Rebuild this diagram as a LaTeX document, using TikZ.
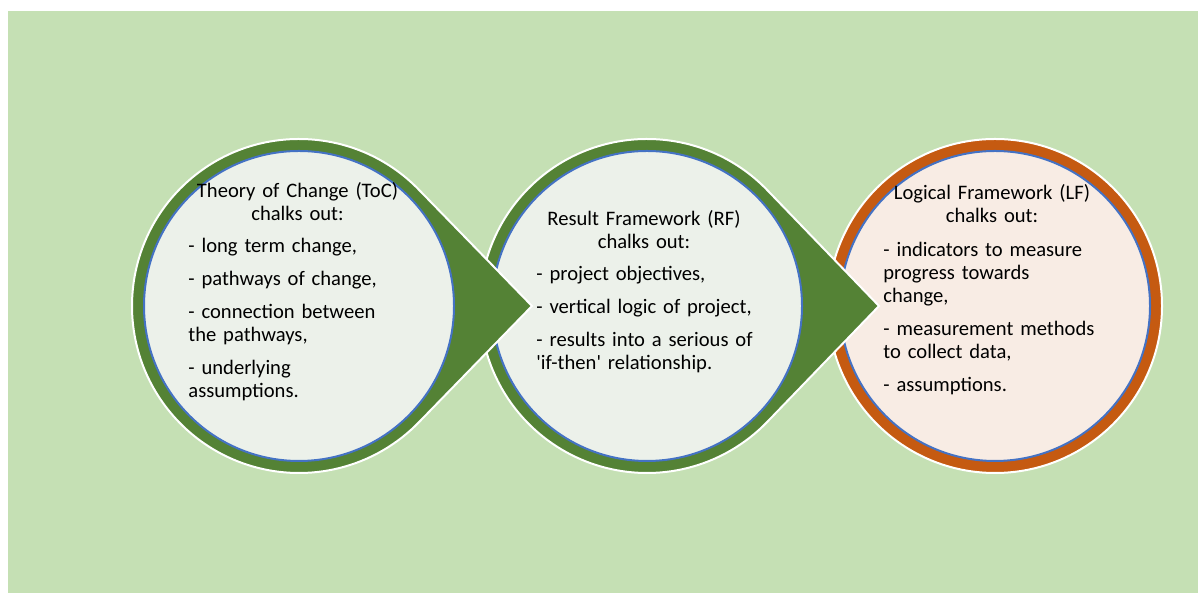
\documentclass[tikz,border=0pt]{standalone}
\usepackage{fontspec}
\newfontfamily\bodyfont{Carlito}
\definecolor{bgGreen}{HTML}{C5E0B4}
\definecolor{ringG}{HTML}{548235}
\definecolor{ringO}{HTML}{C55A11}
\definecolor{lineB}{HTML}{4472C4}
\definecolor{fillG}{HTML}{ECF1EA}
\definecolor{fillO}{HTML}{F8ECE4}
\tikzset{
  ringshape/.style={fill=#1, draw=white, line width=1pt},
  innercirc/.style={circle, inner sep=0pt, outer sep=0pt, minimum size=155pt,
                    draw=lineB, line width=1pt, fill=#1},
  bodytext/.style={inner sep=0pt, text width=150pt, text=black,
                   font=\bodyfont\fontsize{10.3}{11.5}\selectfont},
  headtext/.style={bodytext, anchor=base, execute at begin node=\centering},
  listtext/.style={bodytext, anchor=base west,
                   execute at begin node={\raggedright\setlength{\parskip}{5pt}}}
}
\begin{document}
\begin{tikzpicture}[x=0.5pt,y=0.5pt]
\useasboundingbox (0,0) rectangle (1198,593);
% panel
\fill[bgGreen] (8,0) rectangle (1198,582);

\coordinate (c1) at (299,287);
\coordinate (c2) at (647,287);
\coordinate (c3) at (995,287);
\coordinate (tip1) at (532,287);
\coordinate (tip2) at (879,287);

% third stage: plain ring
\draw[ringshape=ringO] (c3) circle[radius=167];
\node[innercirc=fillO] (in3) at (c3) {};
\node[headtext] (head3) at (992,393) {Logical Framework (LF)\\chalks out:};
\node[listtext] (list3) at (883,336) {
  - indicators to measure\\progress towards\\change,\par
  - measurement methods\\to collect data,\par
  - assumptions.};

% second stage: ring with arrow point
\draw[ringshape=ringG] (tip2) -- ([shift={(44:167)}]c2)
  arc[start angle=44, end angle=316, radius=167] -- cycle;
\node[innercirc=fillG] (in2) at (c2) {};
\node[headtext] (head2) at (644,367) {Result Framework (RF)\\chalks out:};
\node[listtext] (list2) at (536,312) {
  - project objectives,\par
  - vertical logic of project,\par
  - results into a serious of\\\textquotesingle if-then\textquotesingle{} relationship.};

% first stage: ring with arrow point
\draw[ringshape=ringG] (tip1) -- ([shift={(44:167)}]c1)
  arc[start angle=44, end angle=316, radius=167] -- cycle;
\node[innercirc=fillG] (in1) at (c1) {};
\node[headtext] (head1) at (297.5,395) {Theory of Change (ToC)\\chalks out:};
\node[listtext] (list1) at (188,340) {
  - long term change,\par
  - pathways of change,\par
  - connection between\\the pathways,\par
  - underlying\\assumptions.};
\end{tikzpicture}
\end{document}
